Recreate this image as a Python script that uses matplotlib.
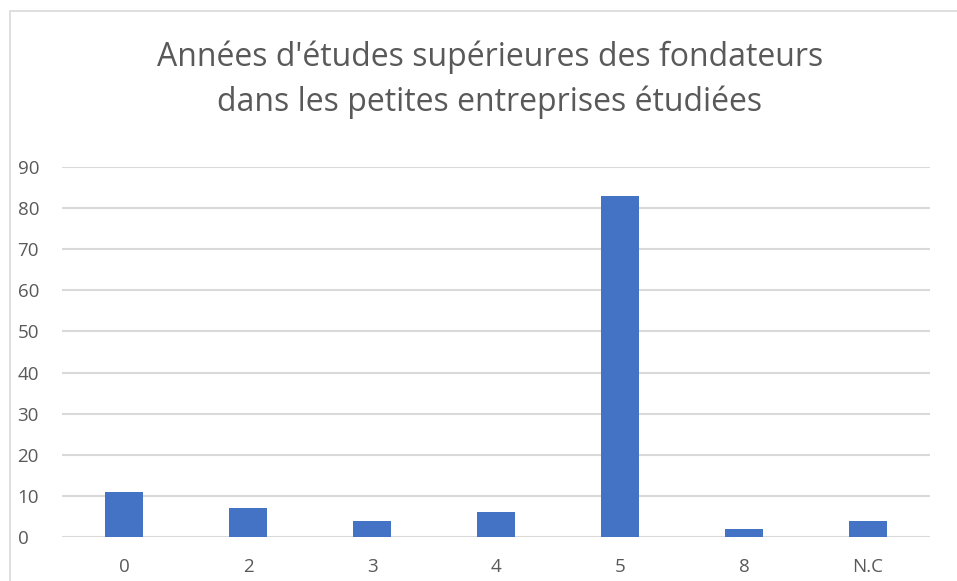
import matplotlib.pyplot as plt
from matplotlib.patches import Rectangle

# valeurs
categories = ['0', '2', '3', '4', '5', '8', 'N.C']
counts = [11, 7, 4, 6, 83, 2, 4]
yticks = list(range(0, 100, 10))

title_lines = ["Années d'études supérieures des fondateurs",
               "dans les petites entreprises étudiées"]

plt.rcParams['font.family'] = ['Open Sans', 'DejaVu Sans']
grey_txt = '#595959'

fig = plt.figure(figsize=(9.57, 5.81), dpi=100)
ax = fig.add_axes([62/957, 44/581, 868/957, 370/581])

# cadre du graphique (coupé à droite et en bas)
fig.patches.append(Rectangle((10/957, -0.05), 1.2, 1.05 - 11/581,
                             transform=fig.transFigure, fill=False,
                             edgecolor='#d9d9d9', linewidth=1.2))

x = range(len(categories))
ax.bar(x, counts, width=0.31, color='#4472c4', zorder=3)

ax.set_xlim(-0.5, len(categories) - 0.5)
ax.set_ylim(0, 90)
ax.set_yticks(yticks)
ax.set_xticks(list(x))
ax.set_xticklabels(categories)
ax.grid(axis='y', color='#d9d9d9', linewidth=1.5, zorder=0)
for s in ax.spines.values():
    s.set_visible(False)
ax.tick_params(length=0, labelsize=13.5, labelcolor=grey_txt)
ax.tick_params(axis='y', pad=32)
ax.tick_params(axis='x', pad=15)
for lab in ax.get_yticklabels():
    lab.set_horizontalalignment('left')

for i, line in enumerate(title_lines):
    fig.text(490/957, 1 - (66 + 45*i)/581, line, ha='center', va='baseline',
             fontsize=23, color=grey_txt)

fig.savefig('out.png', dpi=100)
